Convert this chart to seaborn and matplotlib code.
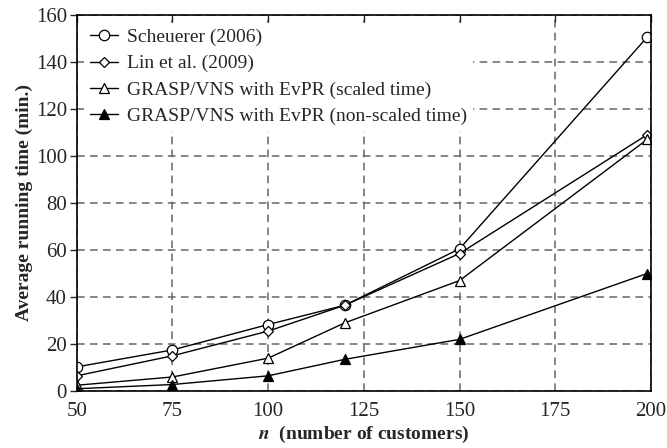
import matplotlib
matplotlib.use("Agg")
import matplotlib.pyplot as plt
import seaborn as sns
import pandas as pd

n_values = [50, 75, 100, 120, 150, 199]
scheuerer = [10.3, 17.5, 28.3, 36.5, 60.5, 150.5]
lin = [6.5, 15.0, 25.5, 36.5, 58.5, 109.0]
grasp_scaled = [2.5, 6.0, 14.0, 29.0, 47.0, 107.0]
grasp_nonscaled = [1.0, 2.8, 6.5, 13.5, 22.0, 50.0]

labels = ["Scheuerer (2006)", "Lin et al. (2009)",
          "GRASP/VNS with EvPR (scaled time)",
          "GRASP/VNS with EvPR (non-scaled time)"]
series = [scheuerer, lin, grasp_scaled, grasp_nonscaled]
markers = ["o", "D", "^", "^"]
msizes = [7.5, 5.5, 7.5, 7.5]
faces = ["white", "white", "white", "black"]

sns.set_style("white")
plt.rcParams["font.family"] = ["Liberation Serif", "DejaVu Serif"]
plt.rcParams["mathtext.fontset"] = "stix"

fig = plt.figure(figsize=(6.67, 4.48), dpi=100)
ax = fig.add_axes([0.115, 0.127, 0.861, 0.84])

for lab, ys, m, ms, fc in zip(labels, series, markers, msizes, faces):
    df = pd.DataFrame({"n": n_values, "t": ys})
    sns.lineplot(data=df, x="n", y="t", ax=ax, color="black", lw=1.0,
                 marker=m, markersize=ms, markerfacecolor=fc,
                 markeredgecolor="black", markeredgewidth=0.9, label=lab)

ax.set_xlim(50, 200)
ax.set_ylim(0, 160)
ax.set_xticks([50, 75, 100, 125, 150, 175, 200])
ax.set_yticks(range(0, 161, 20))
ax.grid(True, linestyle=(0, (5, 3.5)), color="#666666", linewidth=1.1)
ax.set_axisbelow(True)
for s in ax.spines.values():
    s.set_color("black")
    s.set_linewidth(1.2)
ax.tick_params(axis="y", direction="out", left=True, length=5, width=1,
               labelsize=15, pad=2)
ax.tick_params(axis="x", direction="in", bottom=False, top=True, length=5,
               width=1, labelsize=15, pad=8)

ax.set_xlabel(r"$\boldsymbol{n}$  (number of customers)", fontsize=14,
              fontweight="bold", labelpad=2)
ax.set_ylabel("Average running time (min.)", fontsize=14, fontweight="bold",
              labelpad=2)

leg = ax.legend(loc="upper left", fontsize=14, frameon=True, fancybox=False,
                facecolor="white", edgecolor="none", framealpha=1.0,
                handlelength=1.4, handletextpad=0.5, labelspacing=0.45,
                borderpad=0.3, borderaxespad=0.4)
leg.set_zorder(3)

fig.savefig("out.png", dpi=100)
